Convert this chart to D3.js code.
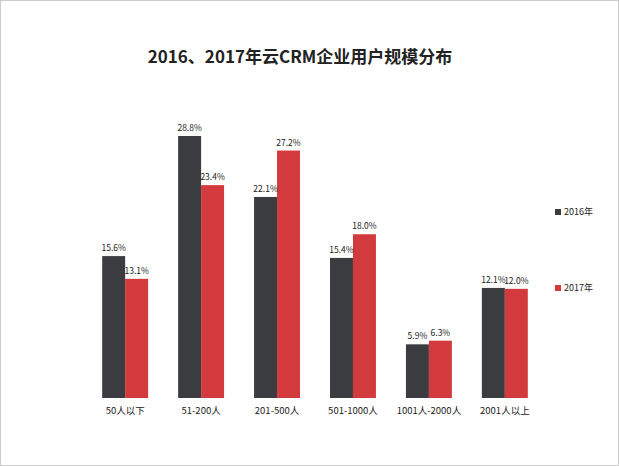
<!DOCTYPE html>
<html><head><meta charset="utf-8">
<script src="https://cdn.jsdelivr.net/npm/d3@7"></script>
<style>body{margin:0;background:#fff;font-family:"Noto Sans CJK SC","Noto Sans",sans-serif;}</style>
</head><body>
<script>
const categories = ["50人以下", "51-200人", "201-500人", "501-1000人", "1001人-2000人", "2001人以上"];
const series = ["2016年", "2017年"];
const values2016 = [15.6, 28.8, 22.1, 15.4, 5.9, 12.1];
const values2017 = [13.1, 23.4, 27.2, 18.0, 6.3, 12.0];
const colors = ["#3a3c40", "#d23a3e"];

const width = 619, height = 466;
const svg = d3.select("body").append("svg").attr("width", width).attr("height", height);

svg.append("rect").attr("x", 0.5).attr("y", 0.5).attr("width", width - 1).attr("height", height - 1)
   .attr("fill", "#fff").attr("stroke", "#ccc");

svg.append("text").attr("x", 300).attr("y", 63).attr("text-anchor", "middle")
   .style("font-size", "17px").style("font-weight", "bold").attr("fill", "#222")
   .text("2016、2017年云CRM企业用户规模分布");

const x = d3.scaleBand().domain(categories).range([87, 543]).paddingInner(0.395).paddingOuter(0.2);
const xs = d3.scaleBand().domain(series).range([0, x.bandwidth()]);
const y = d3.scaleLinear().domain([0, 28.8]).range([398, 136]);

const rows = categories.map((c, i) => ({ c, v: [values2016[i], values2017[i]] }));
const g = svg.selectAll("g.grp").data(rows).enter().append("g")
   .attr("transform", d => `translate(${x(d.c)},0)`);
g.selectAll("rect").data(d => d.v.map((v, j) => ({ s: series[j], v, j }))).enter().append("rect")
   .attr("x", d => xs(d.s)).attr("y", d => y(d.v)).attr("width", xs.bandwidth())
   .attr("height", d => y(0) - y(d.v)).attr("fill", d => colors[d.j]);
g.selectAll("text").data(d => d.v.map((v, j) => ({ s: series[j], v, j }))).enter().append("text")
   .attr("x", d => xs(d.s) + xs.bandwidth() / 2).attr("y", d => y(d.v) - 5)
   .attr("text-anchor", "middle").style("font-size", "8.5px").attr("fill", "#222")
   .text(d => d.v.toFixed(1) + "%");

const xAxis = svg.append("g").attr("transform", "translate(0,398)")
   .call(d3.axisBottom(x).tickSize(0).tickPadding(9));
xAxis.select(".domain").remove();
xAxis.selectAll("text").style("font-size", "9.5px").attr("fill", "#222")
   .style("font-family", '"Noto Sans CJK SC",sans-serif');

const legY = [212, 288];
series.forEach((s, i) => {
  svg.append("rect").attr("x", 555).attr("y", legY[i] - 3).attr("width", 6).attr("height", 6).attr("fill", colors[i]);
  svg.append("text").attr("x", 564).attr("y", legY[i] + 3).style("font-size", "9px").attr("fill", "#222").text(s);
});
</script>
</body></html>
